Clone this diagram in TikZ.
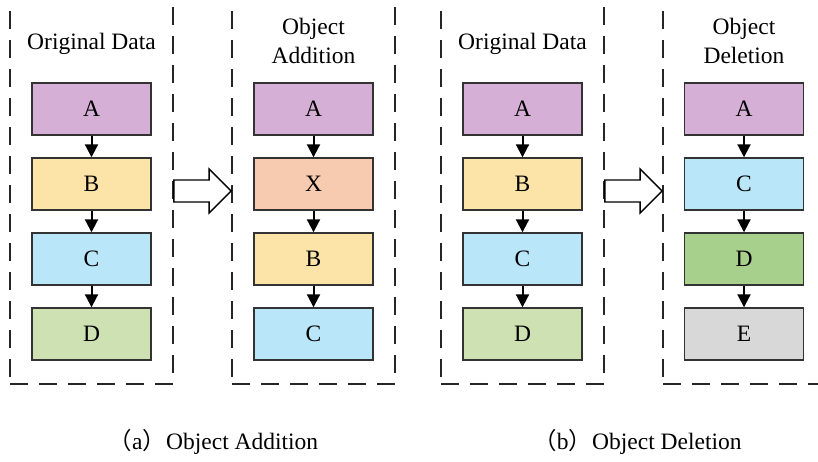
\documentclass[tikz,border=0pt]{standalone}
\usepackage{fontspec}
\setmainfont{Liberation Serif}
\newfontfamily\cjk{Noto Sans CJK SC}
\usetikzlibrary{arrows.meta,calc}
\definecolor{cA}{RGB}{214,175,215}
\definecolor{cB}{RGB}{252,228,168}
\definecolor{cC}{RGB}{185,230,248}
\definecolor{cD}{RGB}{206,225,178}
\definecolor{cDd}{RGB}{168,208,141}
\definecolor{cX}{RGB}{247,203,175}
\definecolor{cE}{RGB}{216,216,216}
\begin{document}
\begin{tikzpicture}[x=1pt,y=-1pt,
  panel/.style={draw=black!85, line width=1.8pt, dash pattern=on 18pt off 11pt, minimum width=163pt, minimum height=386pt, inner sep=0pt},
  box/.style={draw=black!80, line width=1.4pt, minimum width=119pt, minimum height=52pt, inner sep=0pt, font=\fontsize{23.5}{23.5}\selectfont},
  link/.style={line width=2pt, -{Triangle[length=13pt,width=13pt]}},
  title/.style={font=\fontsize{23.5}{26}\selectfont, anchor=base, inner sep=0pt},
  blockarrow/.style={draw=black, line width=1.4pt, fill=white, line join=miter}
]
\clip (0,0) rectangle (818,461);
% panels
\node[panel] (p1) at (91.5,191) {};
\node[panel] (p2) at (313.5,191) {};
\node[panel] (p3) at (522.5,191) {};
\node[panel] (p4) at (744.5,191) {};
% titles
\node[title] (t1) at (91.5,49) {Original Data};
\node[title] (t2a) at (313.5,34) {Object};
\node[title] (t2b) at (313.5,63) {Addition};
\node[title] (t3) at (522.5,49) {Original Data};
\node[title] (t4a) at (744,34) {Object};
\node[title] (t4b) at (744,63) {Deletion};
% panel 1
\node[box, fill=cA] (a1) at (91.5,109) {A};
\node[box, fill=cB] (b1) at (91.5,184) {B};
\node[box, fill=cC] (c1) at (91.5,259) {C};
\node[box, fill=cD] (d1) at (91.5,334) {D};
\draw[link] (a1) -- (b1);
\draw[link] (b1) -- (c1);
\draw[link] (c1) -- (d1);
% panel 2
\node[box, fill=cA] (a2) at (313.5,109) {A};
\node[box, fill=cX] (x2) at (313.5,184) {X};
\node[box, fill=cB] (b2) at (313.5,259) {B};
\node[box, fill=cC] (c2) at (313.5,334) {C};
\draw[link] (a2) -- (x2);
\draw[link] (x2) -- (b2);
\draw[link] (b2) -- (c2);
% panel 3
\node[box, fill=cA] (a3) at (522.5,109) {A};
\node[box, fill=cB] (b3) at (522.5,184) {B};
\node[box, fill=cC] (c3) at (522.5,259) {C};
\node[box, fill=cD] (d3) at (522.5,334) {D};
\draw[link] (a3) -- (b3);
\draw[link] (b3) -- (c3);
\draw[link] (c3) -- (d3);
% panel 4
\node[box, fill=cA] (a4) at (744,109) {A};
\node[box, fill=cC] (c4) at (744,184) {C};
\node[box, fill=cDd] (d4) at (744,259) {D};
\node[box, fill=cE] (e4) at (744,334) {E};
\draw[link] (a4) -- (c4);
\draw[link] (c4) -- (d4);
\draw[link] (d4) -- (e4);
% block arrows
\draw[blockarrow] ($(p1.east)+(0,-11)$) -- ($(p2.west)+(-22,-11)$) -- ($(p2.west)+(-22,-22)$)
  -- (p2.west) -- ($(p2.west)+(-22,22)$) -- ($(p2.west)+(-22,11)$) -- ($(p1.east)+(0,11)$) -- cycle;
\draw[blockarrow] ($(p3.east)+(0,-11)$) -- ($(p4.west)+(-22,-11)$) -- ($(p4.west)+(-22,-22)$)
  -- (p4.west) -- ($(p4.west)+(-22,22)$) -- ($(p4.west)+(-22,11)$) -- ($(p3.east)+(0,11)$) -- cycle;
% captions
\node[title] (capa) at (213.5,449) {{\cjk （}a{\cjk ）}Object Addition};
\node[title] (capb) at (637.5,449) {{\cjk （}b{\cjk ）}Object Deletion};
\end{tikzpicture}
\end{document}
